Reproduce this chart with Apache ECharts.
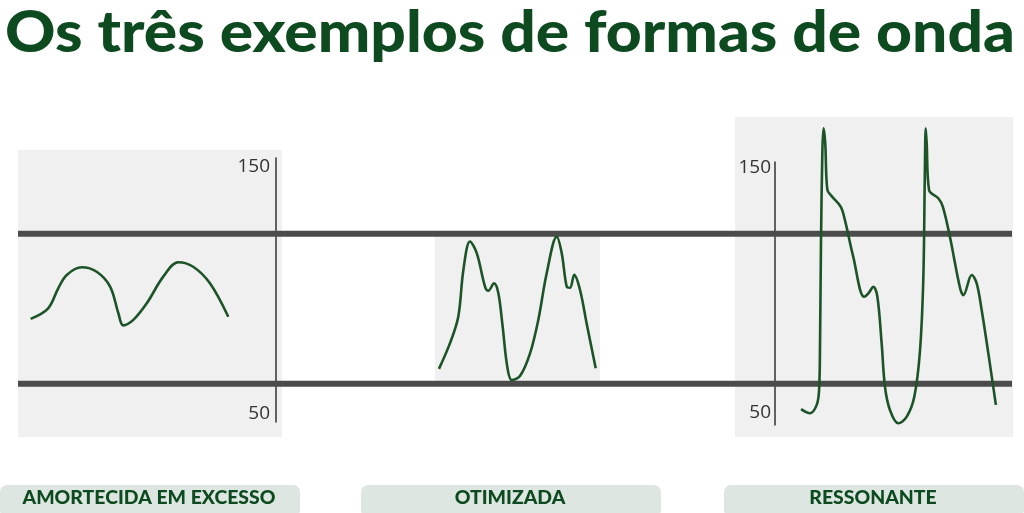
<!DOCTYPE html>
<html><head><meta charset="utf-8">
<script src="https://cdn.jsdelivr.net/npm/echarts@6/dist/echarts.min.js"></script>
<style>html,body{margin:0;padding:0;background:#fff}#c{width:1024px;height:513px}</style>
</head><body><div id="c"></div><script>
// ---- data ----
const titleText = 'Os três exemplos de formas de onda';
const panelLabels = ['AMORTECIDA EM EXCESSO', 'OTIMIZADA', 'RESSONANTE'];
const yTickLabels = [50, 150];
const thresholds = [122.7, 62];

// over-damped waveform (time units 0-100, pressure)
const overT = [4.9, 11.7, 15.6, 18.9, 24.7, 30.5, 35.7, 38.9, 40.8, 44.7, 49.9, 56.3, 62.1, 67.9, 74.4, 81.5];
const overV = [88.2, 92.5, 100.6, 106.0, 109.1, 107.3, 101.3, 90.5, 85.6, 87.8, 94.5, 105.3, 111.1, 109.3, 102.6, 89.1];

// optimal waveform
const optT = [2.4, 9.1, 14.1, 17.2, 21.2, 25.3, 30.3, 32.3, 35.8, 38.4, 41.0, 43.8, 46.5, 51.5, 57.6, 62.6, 67.7, 73.8, 76.8, 79.8, 81.8, 84.4, 87.9, 91.9, 97.4];
const optV = [68.0, 78.4, 89.1, 108.0, 119.5, 114.8, 101.3, 99.6, 102.6, 98.6, 85.1, 68.9, 63.5, 65.1, 74.3, 87.8, 106.7, 121.5, 114.8, 101.3, 100.8, 106.0, 99.9, 86.4, 68.2];

// resonant waveform
const resT = [11.0, 14.8, 17.6, 18.6, 19.0, 19.4, 20.0, 20.5, 21.2, 22.1, 23.9, 27.7, 29.5, 33.0, 37.6, 39.4, 41.5, 43.2, 45.0, 46.4, 48.5, 52.0, 55.6, 58.8, 61.2, 62.6, 63.2, 63.6, 64.0, 65.0, 68.9, 70.8, 73.8, 78.1, 79.5, 83.0, 85.1, 87.2, 90.0, 93.2];
const resV = [51.6, 49.9, 53.3, 59.4, 78.4, 119.2, 157.3, 166.2, 160.0, 141.0, 138.5, 134.2, 128.7, 113.8, 97.4, 98.8, 101.5, 97.4, 78.4, 60.7, 51.2, 45.8, 48.5, 56.7, 75.7, 105.6, 146.4, 166.2, 160.0, 141.0, 137.6, 134.2, 121.9, 100.9, 98.1, 106.3, 102.9, 92.0, 74.4, 53.3];

// ---- helpers ----
const zip = (a, b) => a.map((x, i) => [x, b[i]]);
const ctx = document.createElement('canvas').getContext('2d');
function measure(font, s) { ctx.font = font; return ctx.measureText(s).width; }

const GREEN = '#0d4a1f';
const WAVE = '#1c5428';
const titleFont = '900 58px Lato';
const titleScale = 1010 / measure(titleFont, titleText);
const labelFont = '900 19px Lato';
const labelScale = 253 / measure(labelFont, panelLabels[0]);

const chart = echarts.init(document.getElementById('c'), null, { renderer: 'canvas' });

const hiddenX = (gi, min, max) => ({ gridIndex: gi, type: 'value', min, max, show: false });
const axisLabelStyle = { fontFamily: 'Open Sans', fontSize: 19, color: '#333' };

const boxes = [[0, 300], [361, 300], [724, 300]];

chart.setOption({
  animation: false,
  grid: [
    { left: 18, top: 158, width: 258, height: 264 },
    { left: 435, top: 158, width: 165, height: 264 },
    { left: 775, top: 162, width: 237, height: 263 },
    { left: 18, top: 158, width: 994, height: 264 }
  ],
  xAxis: [hiddenX(0, 0, 100), hiddenX(1, 0, 100), hiddenX(2, 0, 100), hiddenX(3, 0, 1)],
  yAxis: [
    { gridIndex: 0, type: 'value', position: 'right', min: 46.5, max: 153.3,
      axisLine: { show: true, onZero: false, lineStyle: { color: '#333', width: 1.5 } },
      axisTick: { show: false }, splitLine: { show: false },
      axisLabel: Object.assign({ inside: true, margin: 6, customValues: yTickLabels }, axisLabelStyle) },
    { gridIndex: 1, type: 'value', min: 46.5, max: 153.3, show: false },
    { gridIndex: 2, type: 'value', position: 'left', min: 45.1, max: 152.4,
      axisLine: { show: true, onZero: false, lineStyle: { color: '#333', width: 1.5 } },
      axisTick: { show: false }, splitLine: { show: false },
      axisLabel: Object.assign({ margin: 4, customValues: yTickLabels }, axisLabelStyle) },
    { gridIndex: 3, type: 'value', min: 46.5, max: 153.3, show: false }
  ],
  graphic: [
    { type: 'rect', z: -10, shape: { x: 18, y: 150, width: 264, height: 287 }, style: { fill: '#f0f0f0' } },
    { type: 'rect', z: -10, shape: { x: 435, y: 236, width: 165, height: 146 }, style: { fill: '#f0f0f0' } },
    { type: 'rect', z: -10, shape: { x: 735, y: 117, width: 278, height: 320 }, style: { fill: '#f0f0f0' } },
    { type: 'text', x: 5, y: 33, scaleX: titleScale,
      style: { text: titleText, font: titleFont, fill: GREEN, textAlign: 'left', textVerticalAlign: 'middle' } }
  ].concat(boxes.map(b => ({ type: 'rect', z: -10, shape: { x: b[0], y: 485, width: b[1], height: 32, r: 7 }, style: { fill: '#dee6e1' } })))
   .concat(panelLabels.map((t, i) => ({ type: 'text', x: boxes[i][0] + boxes[i][1] / 2 - 1, y: 498, scaleX: labelScale,
      style: { text: t, font: labelFont, fill: GREEN, textAlign: 'center', textVerticalAlign: 'middle' } }))),
  series: thresholds.map(v => ({
    type: 'line', xAxisIndex: 3, yAxisIndex: 3, z: 1, symbol: 'none', silent: true,
    data: [[0, v], [1, v]], lineStyle: { color: '#4b4b4b', width: 6 }
  })).concat([
    { type: 'line', xAxisIndex: 0, yAxisIndex: 0, data: zip(overT, overV) },
    { type: 'line', xAxisIndex: 1, yAxisIndex: 1, data: zip(optT, optV) },
    { type: 'line', xAxisIndex: 2, yAxisIndex: 2, data: zip(resT, resV) }
  ].map(s => Object.assign(s, { z: 3, symbol: 'none', smooth: 0.35, clip: false, lineStyle: { color: WAVE, width: 2.6 } })))
});
</script></body></html>
